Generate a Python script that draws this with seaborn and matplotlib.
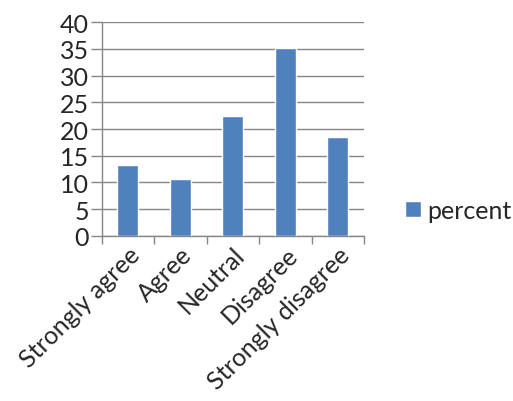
import matplotlib
matplotlib.use("Agg")
import matplotlib.pyplot as plt
import seaborn as sns
import pandas as pd
import numpy as np

categories = ["Strongly agree", "Agree", "Neutral", "Disagree", "Strongly disagree"]
percent = [13.2, 10.6, 22.5, 35.2, 18.5]

sns.set_style("white")
plt.rcParams["font.family"] = ["Lato", "DejaVu Sans"]

df = pd.DataFrame({"response": categories, "percent": percent, "series": "percent"})

fig = plt.figure(figsize=(5.13, 4.02), dpi=100)
ax = fig.add_axes([0.198, 0.411, 0.512, 0.531])

sns.barplot(data=df, x="response", y="percent", hue="series", palette=["#4F81BD"],
            width=0.4, saturation=1, ax=ax, zorder=3)

ax.set_ylim(0, 40)
ax.set_xlim(-0.5, len(categories) - 0.5)
ax.set_yticks(np.arange(0, 41, 5))
ax.yaxis.grid(True, color="#868686", linewidth=1)
ax.set_axisbelow(True)
ax.set_xlabel("")
ax.set_ylabel("")

for side in ["top", "right"]:
    ax.spines[side].set_visible(False)
for side in ["left", "bottom"]:
    ax.spines[side].set_color("#868686")
    ax.spines[side].set_linewidth(1)

fs = 18
ax.tick_params(axis="y", length=8, width=1, color="#868686", labelsize=fs, pad=1, left=True)
ax.tick_params(axis="x", which="major", length=0, labelsize=fs, pad=5)
ax.set_xticks(np.arange(-0.5, len(categories)), minor=True)
ax.tick_params(axis="x", which="minor", length=6, width=1, color="#868686", bottom=True)
ax.set_xticks(range(len(categories)))
ax.set_xticklabels(categories, rotation=45, ha="right", rotation_mode="anchor")

handles, labels = ax.get_legend_handles_labels()
ax.legend(handles, labels, loc="center left", bbox_to_anchor=(1.07, 0.12), frameon=False,
          fontsize=fs, handlelength=0.65, handleheight=0.65, handletextpad=0.25)

fig.savefig("out.png", dpi=100)
